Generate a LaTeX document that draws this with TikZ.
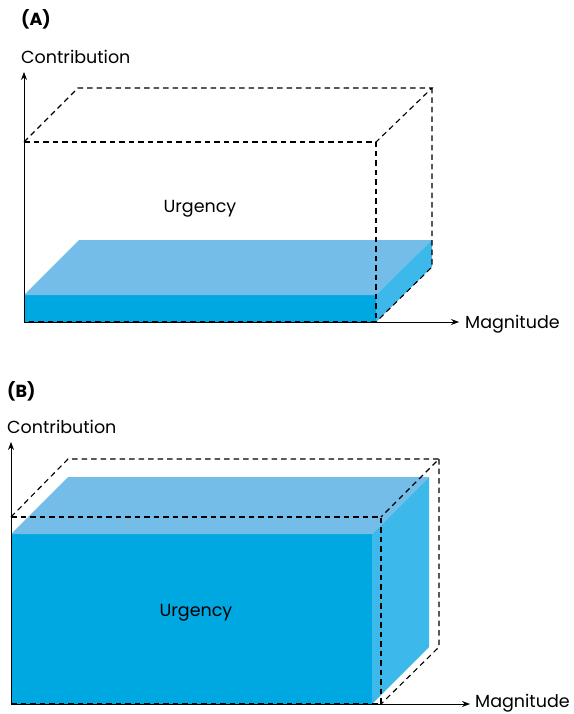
\documentclass[tikz,border=0pt]{standalone}
\usepackage{fontspec}
\setmainfont{Poppins}
\usetikzlibrary{arrows.meta}
\definecolor{frontblue}{HTML}{00A8E1}
\definecolor{topblue}{HTML}{74BDE8}
\definecolor{sideblue}{HTML}{3DB8EA}
\begin{document}
\begin{tikzpicture}[x=1pt,y=-1pt,
  axis/.style={line width=0.8pt,-{Stealth[length=8pt,width=6pt]}},
  hidden/.style={line width=1.1pt,dash pattern=on 5.5pt off 4pt},
  label/.style={font=\fontsize{17.5}{20}\selectfont,inner sep=0pt},
  panel/.style={font=\bfseries\fontsize{17.5}{20}\selectfont,inner sep=0pt,anchor=west}]
\useasboundingbox (0,0) rectangle (573,714);

% ---------- Panel A ----------
\node[panel] (pa) at (21,19) {(A)};
\node[label,anchor=west] (ya) at (21,56.5) {Contribution};
\coordinate (oa) at (24,322);
\coordinate (yta) at (24,72);
\coordinate (xta) at (459,322);
% slab
\fill[frontblue] (24,295) rectangle (376,322);
\fill[topblue] (24,295) -- (79,240) -- (432,240) -- (376,295) -- cycle;
\fill[sideblue] (376,295) -- (432,240) -- (432,267) -- (376,322) -- cycle;
% dashed box
\draw[hidden] (24,142) -- (376,142) -- (376,322) -- (24,322);
\draw[hidden] (24,142) -- (78,88) -- (432,88) -- (376,142);
\draw[hidden] (432,88) -- (432,267) -- (376,322);
\node[label] (ua) at (200,208.5) {Urgency};
% axes
\draw[axis] (oa) -- (yta);
\draw[axis] (oa) -- (xta);
\node[label,anchor=west] (ma) at (465,324.5) {Magnitude};

% ---------- Panel B ----------
\node[panel] (pb) at (7,391) {(B)};
\node[label,anchor=west] (yb) at (7,426.5) {Contribution};
\coordinate (ob) at (11,704);
\coordinate (ytb) at (11,442);
\coordinate (xtb) at (470,704);
% block
\fill[frontblue] (11,534) rectangle (372,704);
\fill[topblue] (11,534) -- (68,477) -- (429,477) -- (372,534) -- cycle;
\fill[sideblue] (372,534) -- (429,477) -- (429,647) -- (372,704) -- cycle;
% dashed box
\draw[hidden] (11,517) -- (381,517) -- (381,704) -- (11,704);
\draw[hidden] (11,517) -- (68,459) -- (439,459) -- (381,517);
\draw[hidden] (439,459) -- (439,647) -- (381,704);
\node[label] (ub) at (196,612.5) {Urgency};
% axes
\draw[axis] (ob) -- (ytb);
\draw[axis] (ob) -- (xtb);
\node[label,anchor=west] (mb) at (475,703) {Magnitude};
\end{tikzpicture}
\end{document}
